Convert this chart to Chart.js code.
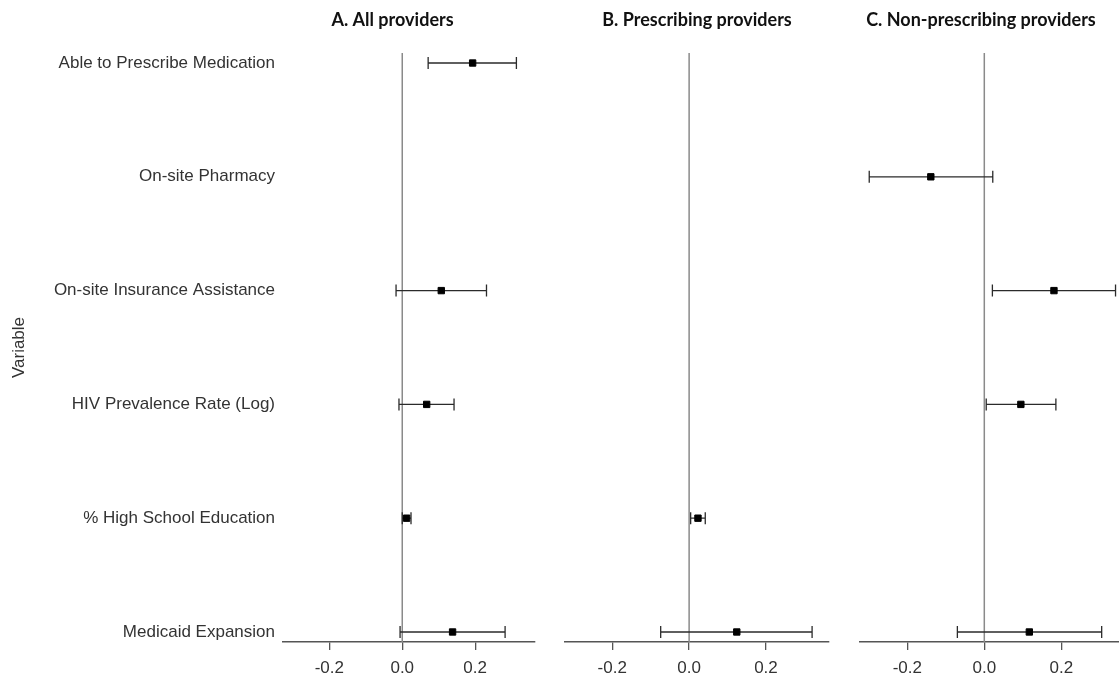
<!DOCTYPE html>
<html>
<head>
<meta charset="utf-8">
<script src="https://cdn.jsdelivr.net/npm/chart.js@4.4.1/dist/chart.umd.min.js"></script>
<style>
    body { margin: 0; background: #fff; width: 1119px; height: 679px; overflow: hidden; position: relative; }
    canvas { position: absolute; top: 0; }
</style>
</head>
<body>
<canvas id="panel-a" width="785" height="679" style="left:0"></canvas>
<canvas id="panel-b" width="284" height="679" style="left:555px"></canvas>
<canvas id="panel-c" width="276" height="679" style="left:843px"></canvas>
<script>
// rows, top to bottom
var categories = ['Able to Prescribe Medication', 'On-site Pharmacy', 'On-site Insurance Assistance',
    'HIV Prevalence Rate (Log)', '% High School Education', 'Medicaid Expansion'];
var xTicks = [-0.2, 0.0, 0.2];

// A. all providers
var allEst = [0.193, null, 0.107, 0.067, 0.012, 0.138];
var allLow = [0.071, null, -0.017, -0.009, 0.000, -0.006];
var allHigh = [0.313, null, 0.231, 0.142, 0.024, 0.282];

// B. prescribing providers
var prescEst = [null, null, null, null, 0.023, 0.124];
var prescLow = [null, null, null, null, 0.004, -0.074];
var prescHigh = [null, null, null, null, 0.042, 0.320];

// C. non-prescribing providers
var nonEst = [null, -0.139, 0.181, 0.095, null, 0.117];
var nonLow = [null, -0.299, 0.021, 0.005, null, -0.070];
var nonHigh = [null, 0.022, 0.341, 0.186, null, 0.305];

// zero line + whiskers, drawn under the squares
var forestLines = {
    id: 'forestLines',
    beforeDatasetsDraw: function (chart, args, opts) {
        var ctx = chart.ctx;
        var x = chart.scales.x;
        var y = chart.scales.y;
        var area = chart.chartArea;
        ctx.save();

        var zx = x.getPixelForValue(0);
        ctx.strokeStyle = '#8a8a8a';
        ctx.lineWidth = 1.5;
        ctx.beginPath();
        ctx.moveTo(zx, area.top);
        ctx.lineTo(zx, area.bottom);
        ctx.stroke();

        ctx.strokeStyle = '#2b2b2b';
        ctx.lineWidth = 1.3;
        opts.low.forEach(function (lo, i) {
            if (lo === null) return;
            var yy = y.getPixelForValue(i + 1);
            var x1 = x.getPixelForValue(lo);
            var x2 = x.getPixelForValue(opts.high[i]);
            ctx.beginPath();
            ctx.moveTo(x1, yy); ctx.lineTo(x2, yy);
            ctx.moveTo(x1, yy - 6); ctx.lineTo(x1, yy + 6);
            ctx.moveTo(x2, yy - 6); ctx.lineTo(x2, yy + 6);
            ctx.stroke();
        });
        ctx.restore();
    }
};

// leftW / rightW: room on each side of the plot, so the title centres on the canvas
function makePanel(id, title, est, low, high, xMin, xMax, showLabels, leftW, rightW) {
    var points = [];
    est.forEach(function (v, i) {
        if (v !== null) points.push({ x: v, y: i + 1 });
    });

    return new Chart(document.getElementById(id), {
        type: 'scatter',
        data: {
            datasets: [{
                data: points,
                pointStyle: 'rect',
                pointRadius: 4.5,
                backgroundColor: '#000',
                borderColor: '#000',
                borderWidth: 1
            }]
        },
        options: {
            responsive: false,
            animation: false,
            layout: { padding: 0, autoPadding: false },
            plugins: {
                legend: { display: false },
                tooltip: { enabled: false },
                title: {
                    display: true,
                    text: title,
                    color: '#111',
                    font: { family: 'Lato', size: 18, weight: 'bold' },
                    padding: { top: 9, bottom: 22.4 }
                },
                forestLines: { low: low, high: high }
            },
            scales: {
                x: {
                    type: 'linear',
                    min: xMin,
                    max: xMax,
                    afterBuildTicks: function (s) {
                        s.ticks = xTicks.map(function (v) { return { value: v }; });
                    },
                    afterFit: function (s) { s.height = 37; },
                    ticks: {
                        color: '#333',
                        font: { family: 'Liberation Sans', size: 17 },
                        padding: 8,
                        maxRotation: 0,
                        callback: function (v) { return v.toFixed(1); }
                    },
                    grid: { drawOnChartArea: false, drawTicks: true, tickLength: 8, color: '#555', lineWidth: 1.3 },
                    border: { display: true, color: '#555', width: 1.5 }
                },
                y: {
                    type: 'linear',
                    position: 'left',
                    reverse: true,
                    min: 0.912,
                    max: 6.088,
                    afterBuildTicks: function (s) {
                        s.ticks = categories.map(function (c, i) { return { value: i + 1 }; });
                    },
                    afterFit: function (s) { s.width = leftW; },
                    ticks: {
                        display: showLabels,
                        color: '#333',
                        font: { family: 'Liberation Sans', size: 17 },
                        padding: 8,
                        callback: function (v) { return categories[v - 1]; }
                    },
                    grid: { display: false, drawTicks: false },
                    border: { display: false },
                    title: {
                        display: showLabels,
                        text: 'Variable',
                        color: '#333',
                        font: { family: 'Liberation Sans', size: 17 },
                        padding: { top: 9, bottom: 0 }
                    }
                },
                pad: {
                    type: 'linear',
                    position: 'right',
                    ticks: { display: false },
                    grid: { display: false, drawTicks: false },
                    border: { display: false },
                    afterFit: function (s) { s.width = rightW; }
                }
            }
        },
        plugins: [forestLines]
    });
}

makePanel('panel-a', 'A. All providers', allEst, allLow, allHigh, -0.327, 0.364, true, 283, 250);
makePanel('panel-b', 'B. Prescribing providers', prescEst, prescLow, prescHigh, -0.323, 0.364, false, 10, 10);
makePanel('panel-c', 'C. Non-prescribing providers', nonEst, nonLow, nonHigh, -0.323, 0.350, false, 17, 0);
</script>
</body>
</html>
